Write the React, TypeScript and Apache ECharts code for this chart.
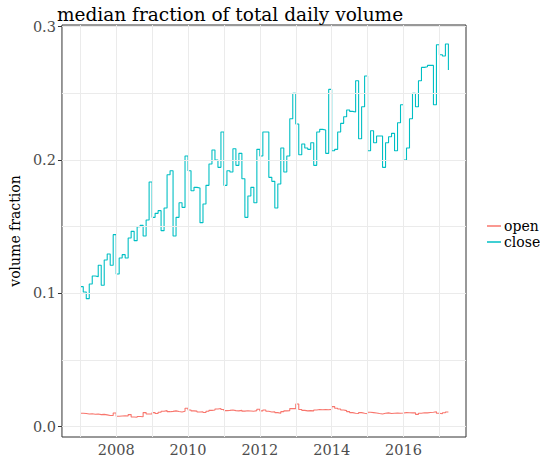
import React, { useEffect, useRef } from "react";
import * as echarts from "echarts";

// monthly medians, Jan 2007 .. Apr 2017
const startYear = 2007;
const seriesNames = ["open", "close"];
const closeValues = [
  0.105, 0.101, 0.096, 0.107, 0.113, 0.1125, 0.121, 0.106, 0.125, 0.1295, 0.121, 0.144,
  0.1145, 0.1265, 0.129, 0.1265, 0.1415, 0.1465, 0.1395, 0.15, 0.151, 0.143, 0.155, 0.1835,
  0.157, 0.16, 0.162, 0.147, 0.164, 0.189, 0.192, 0.143, 0.157, 0.168, 0.1645, 0.203,
  0.192, 0.177, 0.1795, 0.179, 0.153, 0.167, 0.181, 0.197, 0.2075, 0.2, 0.1945, 0.221,
  0.181, 0.192, 0.191, 0.2085, 0.196, 0.205, 0.186, 0.157, 0.173, 0.1795, 0.168, 0.208,
  0.203, 0.221, 0.221, 0.187, 0.184, 0.164, 0.182, 0.209, 0.191, 0.203, 0.231, 0.25,
  0.227, 0.204, 0.212, 0.209, 0.208, 0.213, 0.196, 0.221, 0.223, 0.2225, 0.205, 0.253,
  0.207, 0.208, 0.221, 0.2275, 0.2325, 0.2375, 0.2365, 0.236, 0.2595, 0.216, 0.24, 0.263,
  0.207, 0.222, 0.213, 0.218, 0.218, 0.1945, 0.213, 0.2175, 0.22, 0.207, 0.228, 0.2415,
  0.2, 0.209, 0.231, 0.25, 0.24, 0.2595, 0.2695, 0.27, 0.271, 0.271, 0.2415, 0.2865,
  0.279, 0.278, 0.287, 0.2675,
];
const openValues = [
  0.01, 0.0098, 0.0095, 0.0096, 0.0093, 0.0094, 0.009, 0.0092, 0.0088, 0.0083, 0.0084, 0.0102,
  0.0078, 0.008, 0.0082, 0.0079, 0.009, 0.0072, 0.007, 0.0076, 0.0074, 0.0105, 0.0095, 0.0094,
  0.0105, 0.0098, 0.0108, 0.0115, 0.012, 0.0112, 0.0114, 0.0118, 0.0113, 0.011, 0.0115, 0.0138,
  0.0125, 0.0118, 0.0116, 0.011, 0.0112, 0.0106, 0.0115, 0.0122, 0.0125, 0.0132, 0.0136, 0.0128,
  0.012, 0.0122, 0.0125, 0.012, 0.0118, 0.0122, 0.0116, 0.0119, 0.0117, 0.0115, 0.012, 0.013,
  0.0118, 0.0125, 0.0115, 0.011, 0.0112, 0.0105, 0.01, 0.0112, 0.0118, 0.012, 0.0135, 0.0135,
  0.017, 0.0128, 0.0122, 0.0118, 0.012, 0.0118, 0.0125, 0.0128, 0.0126, 0.0128, 0.0127, 0.0129,
  0.015, 0.0138, 0.0132, 0.0125, 0.012, 0.0112, 0.0105, 0.01, 0.0098, 0.0105, 0.01, 0.0096,
  0.0108, 0.0105, 0.0102, 0.0098, 0.0095, 0.01, 0.0103, 0.0098, 0.01, 0.0102, 0.01, 0.0102,
  0.0105, 0.0104, 0.0103, 0.0104, 0.0092, 0.01, 0.0104, 0.0103, 0.0106, 0.0108, 0.0112, 0.01,
  0.0096, 0.0104, 0.011, 0.0108,
];
const xTickLabels = [2008, 2010, 2012, 2014, 2016];
const yTickLabels = [0, 0.1, 0.2, 0.3];
const xGridYears = [2007, 2008, 2009, 2010, 2011, 2012, 2013, 2014, 2015, 2016, 2017];
const yGridValues = [0, 0.05, 0.1, 0.15, 0.2, 0.25, 0.3];

const FONT = "DejaVu Serif";
const COLORS = ["#F8766D", "#00BFC4"];

function toPairs(values: number[]) {
  return values.map((v, i) => [startYear + i / 12, v]);
}

export default function App() {
  const ref = useRef<HTMLDivElement>(null);
  useEffect(() => {
    if (!ref.current) return;
    const chart = echarts.init(ref.current, null, { renderer: "svg" });
    const gridLines = [
      ...xGridYears.map((y) => ({ xAxis: y })),
      ...yGridValues.map((v) => ({ yAxis: v })),
    ];
    chart.setOption({
      animation: false,
      backgroundColor: "#ffffff",
      title: {
        text: "median fraction of total daily volume",
        left: 52,
        top: 0,
        textStyle: { fontFamily: FONT, fontSize: 18.5, fontWeight: "normal", color: "#000" },
      },
      legend: {
        orient: "vertical",
        left: 482,
        top: 214,
        itemWidth: 14,
        itemHeight: 1.5,
        itemGap: 2,
        icon: "rect",
        data: seriesNames,
        textStyle: { fontFamily: FONT, fontSize: 14, color: "#000", padding: [0, 0, 0, -2] },
      },
      grid: {
        left: 56,
        right: 74,
        top: 25,
        bottom: 25,
        show: true,
        borderColor: "#333333",
        borderWidth: 1,
        backgroundColor: "transparent",
      },
      xAxis: {
        type: "value",
        min: 2006.49,
        max: 2017.74,
        axisLine: { show: false },
        splitLine: { show: false },
        axisTick: { show: true, customValues: xTickLabels, length: 4, lineStyle: { color: "#333" } },
        axisLabel: {
          customValues: xTickLabels,
          fontFamily: FONT,
          fontSize: 14.5,
          color: "#4D4D4D",
          margin: 5,
          formatter: (v: number) => String(Math.round(v)),
        },
      },
      yAxis: {
        type: "value",
        min: -0.0078,
        max: 0.3013,
        name: "volume fraction",
        nameLocation: "middle",
        nameGap: 38,
        nameTextStyle: { fontFamily: FONT, fontSize: 14, color: "#000" },
        axisLine: { show: false },
        splitLine: { show: false },
        axisTick: { show: true, customValues: yTickLabels, length: 4, lineStyle: { color: "#333" } },
        axisLabel: {
          customValues: yTickLabels,
          fontFamily: FONT,
          fontSize: 14.5,
          color: "#4D4D4D",
          margin: 6,
          formatter: (v: number) => v.toFixed(1),
        },
      },
      series: [
        {
          type: "line",
          data: [],
          z: 1,
          silent: true,
          markLine: {
            silent: true,
            symbol: ["none", "none"],
            label: { show: false },
            lineStyle: { color: "#EBEBEB", width: 1, type: "solid" },
            data: gridLines,
          },
        },
        {
          name: seriesNames[0],
          type: "line",
          step: "end",
          symbol: "none",
          z: 3,
          color: COLORS[0],
          lineStyle: { width: 1.1, color: COLORS[0] },
          data: toPairs(openValues),
        },
        {
          name: seriesNames[1],
          type: "line",
          step: "end",
          symbol: "none",
          z: 3,
          color: COLORS[1],
          lineStyle: { width: 1.1, color: COLORS[1] },
          data: toPairs(closeValues),
        },
      ],
    });
    return () => chart.dispose();
  }, []);
  return (
    <div
      ref={ref}
      style={{ position: "fixed", left: 0, top: 0, width: 540, height: 462, background: "#fff" }}
    />
  );
}
